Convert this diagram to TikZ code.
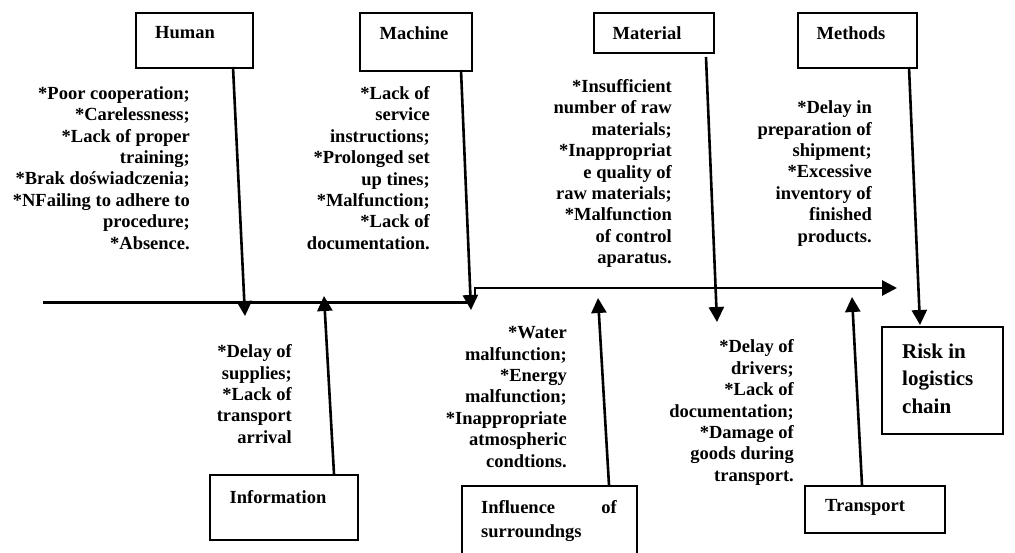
\documentclass[tikz,border=0pt]{standalone}
\usepackage{fontspec}
\setmainfont{Liberation Serif}
\usetikzlibrary{arrows.meta}
\begin{document}
\begin{tikzpicture}[x=1pt,y=-1pt,
  box/.style={draw=black, line width=1.8pt, rectangle, inner sep=0pt, anchor=north west},
  lbl/.style={font=\fontsize{18.5}{21.4}\selectfont\bfseries, inner sep=0pt},
  cause/.style={font=\fontsize{18.5}{21.4}\selectfont\bfseries, inner sep=0pt, align=right, anchor=east},
  arr/.style={line width=2.6pt, -{Triangle[length=15pt,width=15pt]}},
  spine/.style={line width=2.8pt}]
\useasboundingbox (0,0) rectangle (1015,553);
\clip (0,0) rectangle (1015,553);
\fill[white] (0,0) rectangle (1015,553);

% boxes
\node[box, minimum width=117pt, minimum height=55pt] (human) at (135,12) {};
\node[lbl] (humanl) at (185,33) {Human};
\node[box, minimum width=112pt, minimum height=58pt] (machine) at (359,12) {};
\node[lbl] (machinel) at (414,33) {Machine};
\node[box, minimum width=120pt, minimum height=40pt] (material) at (593,12) {};
\node[lbl] (materiall) at (647,33) {Material};
\node[box, minimum width=119pt, minimum height=55pt] (methods) at (797,12) {};
\node[lbl] (methodsl) at (851,33) {Methods};
\node[box, minimum width=148pt, minimum height=65pt] (info) at (209,474) {};
\node[lbl] (infol) at (278,497) {Information};
\node[box, minimum width=175pt, minimum height=90pt] (infl) at (461,485) {};
\node[lbl, anchor=base west] (infl1) at (481,513) {Influence};
\node[lbl, anchor=base east] (infl2) at (617,513) {of};
\node[lbl, anchor=base west] (infl3) at (481,537) {surroundngs};
\node[box, minimum width=140pt, minimum height=47pt] (transport) at (804,485) {};
\node[lbl] (transportl) at (865,507) {Transport};
\node[box, minimum width=121pt, minimum height=107pt] (risk) at (881,326) {};
\node[font=\fontsize{21}{27.5}\selectfont\bfseries, inner sep=0pt, align=left, anchor=west] (riskl) at (902,378.5) {Risk in\\logistics\\chain};

% cause texts
\node[cause] (humant) at (190,168) {*Poor cooperation;\\*Carelessness;\\*Lack of proper\\training;\\*Brak doświadczenia;\\*NFailing to adhere to\\procedure;\\*Absence.};
\node[cause] (machinet) at (430,168) {*Lack of\\service\\instructions;\\*Prolonged set\\up tines;\\*Malfunction;\\*Lack of\\documentation.};
\node[cause] (materialt) at (672,173.5) {*Insufficient\\number of raw\\materials;\\*Inappropriat\\e quality of\\raw materials;\\*Malfunction\\of control\\aparatus.};
\node[cause] (methodst) at (872,173.5) {*Delay in\\preparation of\\shipment;\\*Excessive\\inventory of\\finished\\products.};
\node[cause] (infot) at (292,394) {*Delay of\\supplies;\\*Lack of\\transport\\arrival};
\node[cause] (inflt) at (567,397) {*Water\\malfunction;\\*Energy\\malfunction;\\*Inappropriate\\atmospheric\\condtions.};
\node[cause] (transportt) at (794,412.5) {*Delay of\\drivers;\\*Lack of\\documentation;\\*Damage of\\goods during\\transport.};

% spine
\coordinate (s0) at (43,302.5);
\coordinate (s1) at (470,302.5);
\coordinate (s2) at (475,300);
\coordinate (s3) at (475,288);
\coordinate (s4) at (897,288);
\draw[spine] (s0) -- (s1);
\draw[spine, line join=miter, -{Triangle[length=15pt,width=15pt]}] (s2) -- (s3) -- (s4);

% arrow endpoints
\coordinate (ha) at (233,67);   \coordinate (hb) at (245,316);
\coordinate (ma) at (461,70);   \coordinate (mb) at (471,310);
\coordinate (mta) at (706,57);  \coordinate (mtb) at (717,322);
\coordinate (mea) at (909,67);  \coordinate (meb) at (920,325);
\coordinate (ia) at (334,474);  \coordinate (ib) at (324,296);
\coordinate (fa) at (609,485);  \coordinate (fb) at (598,298);
\coordinate (ta) at (862,485);  \coordinate (tb) at (852,297);

\draw[arr] (ha) -- (hb);
\draw[arr] (ma) -- (mb);
\draw[arr] (mta) -- (mtb);
\draw[arr] (mea) -- (meb);
\draw[arr] (ia) -- (ib);
\draw[arr] (fa) -- (fb);
\draw[arr] (ta) -- (tb);
\end{tikzpicture}
\end{document}
